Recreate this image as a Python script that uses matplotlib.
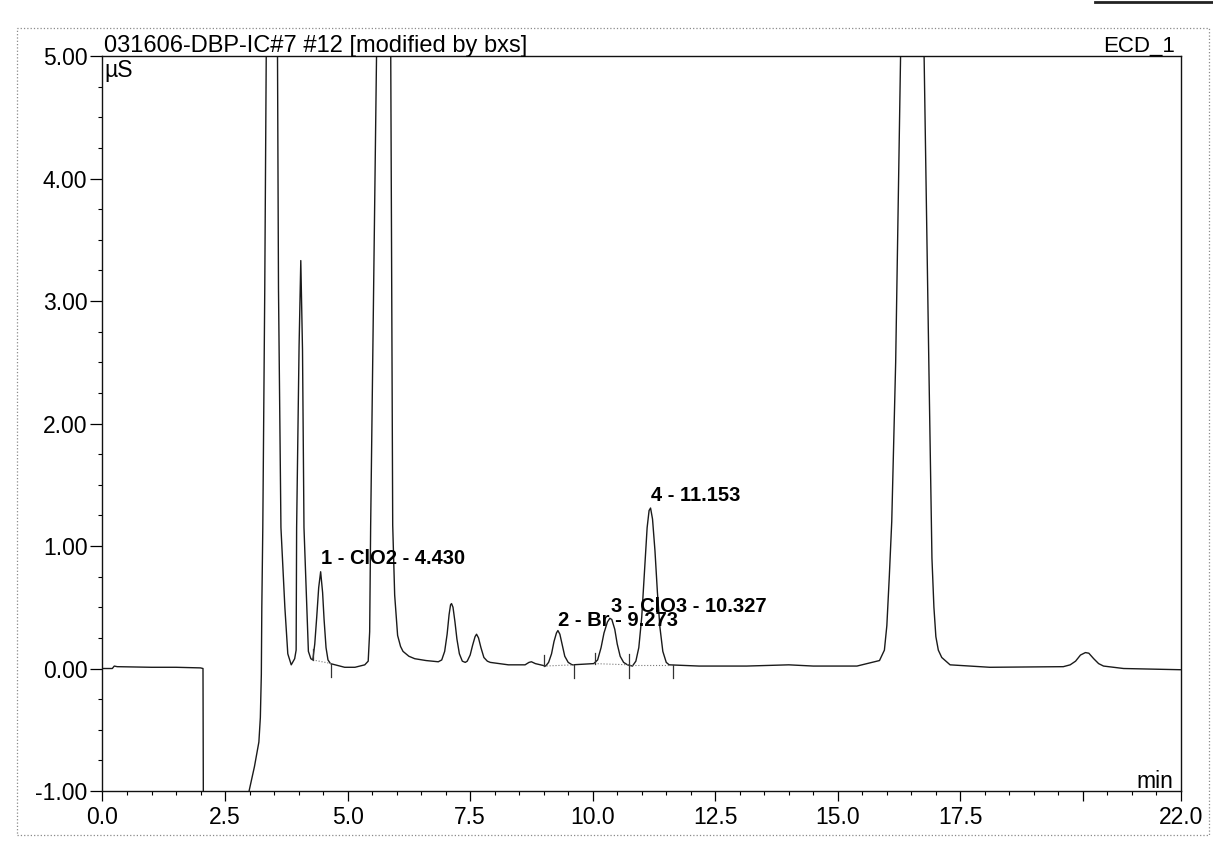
import matplotlib
matplotlib.use('Agg')
import matplotlib.pyplot as plt
from matplotlib.ticker import MultipleLocator, FixedLocator
from matplotlib.patches import Rectangle
from matplotlib.lines import Line2D

# ---------------- data ----------------
time_min = [0.00, 0.20, 0.24, 0.30, 1.00, 1.50, 2.00, 2.05, 2.06, 2.93, 2.99,
            3.10, 3.19, 3.22, 3.24, 3.25, 3.27, 3.31, 3.34, 3.45, 3.57, 3.59,
            3.64, 3.72, 3.78, 3.85, 3.92, 3.95, 3.96, 4.01, 4.045, 4.08, 4.11,
            4.20, 4.25, 4.29, 4.33, 4.37, 4.41, 4.45, 4.49, 4.52, 4.56, 4.60,
            4.65, 4.94, 5.15, 5.35, 5.42, 5.45, 5.47, 5.59, 5.73, 5.88, 5.92,
            5.96, 6.02, 6.08, 6.13, 6.25, 6.37, 6.60, 6.85, 6.92, 6.98, 7.03,
            7.07, 7.10, 7.12, 7.15, 7.19, 7.23, 7.28, 7.34, 7.40, 7.44, 7.50,
            7.55, 7.60, 7.63, 7.67, 7.72, 7.78, 7.85, 7.91, 8.28, 8.62, 8.70,
            8.75, 8.83, 9.04, 9.10, 9.16, 9.21, 9.26, 9.29, 9.33, 9.38, 9.43,
            9.50, 9.58, 10.02, 10.10, 10.17, 10.23, 10.30, 10.35, 10.39, 10.45,
            10.50, 10.56, 10.63, 10.71, 10.81, 10.88, 10.94, 11.00, 11.06,
            11.11, 11.15, 11.18, 11.22, 11.27, 11.32, 11.37, 11.43, 11.50,
            11.56, 12.17, 13.14, 14.00, 14.50, 15.39, 15.85, 15.95, 16.00,
            16.05, 16.10, 16.18, 16.28, 16.52, 16.76, 16.86, 16.92, 16.96,
            17.00, 17.05, 17.12, 17.29, 18.10, 19.60, 19.74, 19.85, 19.95,
            20.05, 20.12, 20.22, 20.32, 20.42, 20.83, 22.00]
signal_uS = [0.00, 0.00, 0.02, 0.015, 0.01, 0.01, 0.005, 0.00, -1.50, -1.50, -1.00,
             -0.80, -0.60, -0.40, -0.05, 0.50, 1.15, 3.10, 5.00, 9.00, 5.00, 3.10,
             1.15, 0.50, 0.12, 0.03, 0.08, 0.15, 1.15, 2.63, 3.33, 2.60, 1.15,
             0.14, 0.08, 0.07, 0.20, 0.42, 0.66, 0.79, 0.62, 0.40, 0.17, 0.07,
             0.04, 0.01, 0.01, 0.03, 0.06, 0.30, 1.16, 5.00, 12.0, 5.00, 1.17,
             0.60, 0.27, 0.18, 0.14, 0.10, 0.08, 0.065, 0.055, 0.07, 0.14, 0.28,
             0.44, 0.52, 0.53, 0.50, 0.38, 0.24, 0.12, 0.06, 0.05, 0.06, 0.11,
             0.19, 0.26, 0.28, 0.25, 0.17, 0.09, 0.06, 0.05, 0.03, 0.03, 0.05,
             0.055, 0.04, 0.02, 0.05, 0.12, 0.22, 0.29, 0.31, 0.28, 0.19, 0.10,
             0.05, 0.03, 0.04, 0.07, 0.17, 0.29, 0.38, 0.41, 0.40, 0.32,
             0.20, 0.10, 0.05, 0.03, 0.02, 0.06, 0.17, 0.42, 0.82,
             1.15, 1.29, 1.31, 1.22, 0.96, 0.62, 0.34, 0.14, 0.05,
             0.03, 0.02, 0.02, 0.03, 0.02, 0.02, 0.065, 0.15, 0.35,
             0.75, 1.20, 2.50, 5.00, 15.0, 5.00, 2.40, 0.90, 0.50,
             0.26, 0.15, 0.09, 0.03, 0.01, 0.015, 0.03, 0.06, 0.11,
             0.13, 0.125, 0.08, 0.04, 0.02, 0.00, -0.01]

peak_label_text = ['1 - ClO2 - 4.430', '2 - Br - 9.273', '3 - ClO3 - 10.327', '4 - 11.153']
peak_label_time = [4.46, 9.29, 10.38, 11.19]
peak_label_value = [0.85, 0.35, 0.46, 1.37]

peak_start_time = [4.29, 9.00, 10.04, 10.75]
peak_start_value = [0.07, 0.02, 0.04, 0.03]
peak_end_time = [4.67, 9.62, 10.75, 11.64]
peak_end_value = [0.04, 0.03, 0.03, 0.03]

x_tick_values = [0, 2.5, 5, 7.5, 10, 12.5, 15, 17.5, 20, 22]
x_tick_labels = ['0.0', '2.5', '5.0', '7.5', '10.0', '12.5', '15.0', '17.5', '', '22.0']
y_tick_values = [-1, 0, 1, 2, 3, 4, 5]
y_tick_labels = ['-1.00', '0.00', '1.00', '2.00', '3.00', '4.00', '5.00']

title_text = '031606-DBP-IC#7 #12 [modified by bxs]'
unit_text = 'µS'
channel_text = 'ECD_1'
x_unit_text = 'min'

# ---------------- drawing ----------------
plt.rcParams['font.family'] = ['Liberation Sans', 'DejaVu Sans']
PX = 0.72  # points per pixel at dpi 100

fig = plt.figure(figsize=(12.13, 8.46), dpi=100)
fig.patch.set_facecolor('white')
ax = fig.add_axes([0.0845, 0.065, 0.8891, 0.8688])

ax.plot(time_min, signal_uS, color='#1a1a1a', lw=1.0, solid_joinstyle='round')

# integration markers and baselines
for ts, vs, te, ve in zip(peak_start_time, peak_start_value, peak_end_time, peak_end_value):
    ax.plot([ts, te], [vs, ve], color='#777777', lw=0.8, ls=':')
for ts, vs in zip(peak_start_time, peak_start_value):
    ax.plot([ts, ts], [vs, vs + 0.09], color='#333333', lw=0.9)
for te, ve in zip(peak_end_time, peak_end_value):
    ax.plot([te, te], [ve, ve - 0.11], color='#333333', lw=0.9)

for txt, t, v in zip(peak_label_text, peak_label_time, peak_label_value):
    ax.text(t, v, txt, fontsize=14.5, fontweight='bold', ha='left', va='baseline',
            color='black')

ax.set_xlim(0, 22)
ax.set_ylim(-1, 5)
ax.xaxis.set_major_locator(FixedLocator(x_tick_values))
ax.set_xticklabels(x_tick_labels)
ax.xaxis.set_minor_locator(MultipleLocator(0.5))
ax.yaxis.set_major_locator(FixedLocator(y_tick_values))
ax.set_yticklabels(y_tick_labels)
ax.yaxis.set_minor_locator(MultipleLocator(0.25))

ax.tick_params(axis='x', which='major', direction='out', length=10 * PX, width=0.9,
               pad=5 * PX, labelsize=16.5)
ax.tick_params(axis='x', which='minor', direction='out', length=4 * PX, width=0.8)
ax.tick_params(axis='y', which='major', direction='out', length=12 * PX, width=0.9,
               pad=3 * PX, labelsize=16.5)
ax.tick_params(axis='y', which='minor', direction='out', length=4 * PX, width=0.8)
for s in ax.spines.values():
    s.set_linewidth(1.0)
    s.set_color('#111111')

ax.annotate(title_text, xy=(0, 1), xycoords='axes fraction', xytext=(2 * PX, 4 * PX),
            textcoords='offset points', ha='left', va='baseline', fontsize=17)
ax.annotate(unit_text, xy=(0, 1), xycoords='axes fraction', xytext=(2 * PX, -3 * PX),
            textcoords='offset points', ha='left', va='top', fontsize=16.5)
ax.annotate(channel_text, xy=(1, 1), xycoords='axes fraction', xytext=(-6 * PX, 4 * PX),
            textcoords='offset points', ha='right', va='baseline', fontsize=16)
ax.annotate(x_unit_text, xy=(1, 0), xycoords='axes fraction', xytext=(-8 * PX, 3 * PX),
            textcoords='offset points', ha='right', va='baseline', fontsize=16.5)

# outer dotted frame of the printout and scan edge
W, H = 1213.0, 846.0
fig.add_artist(Rectangle((17 / W, 1 - 835 / H), (1209 - 17) / W, (835 - 28) / H,
                         transform=fig.transFigure, fill=False, ls=':',
                         lw=0.9, edgecolor='#8a8a8a'))
fig.add_artist(Line2D([1095 / W, 1.0], [1 - 2 / H, 1 - 2 / H], transform=fig.transFigure,
                      color='#222222', lw=2.0))

fig.savefig('out.png', dpi=100, facecolor='white')
